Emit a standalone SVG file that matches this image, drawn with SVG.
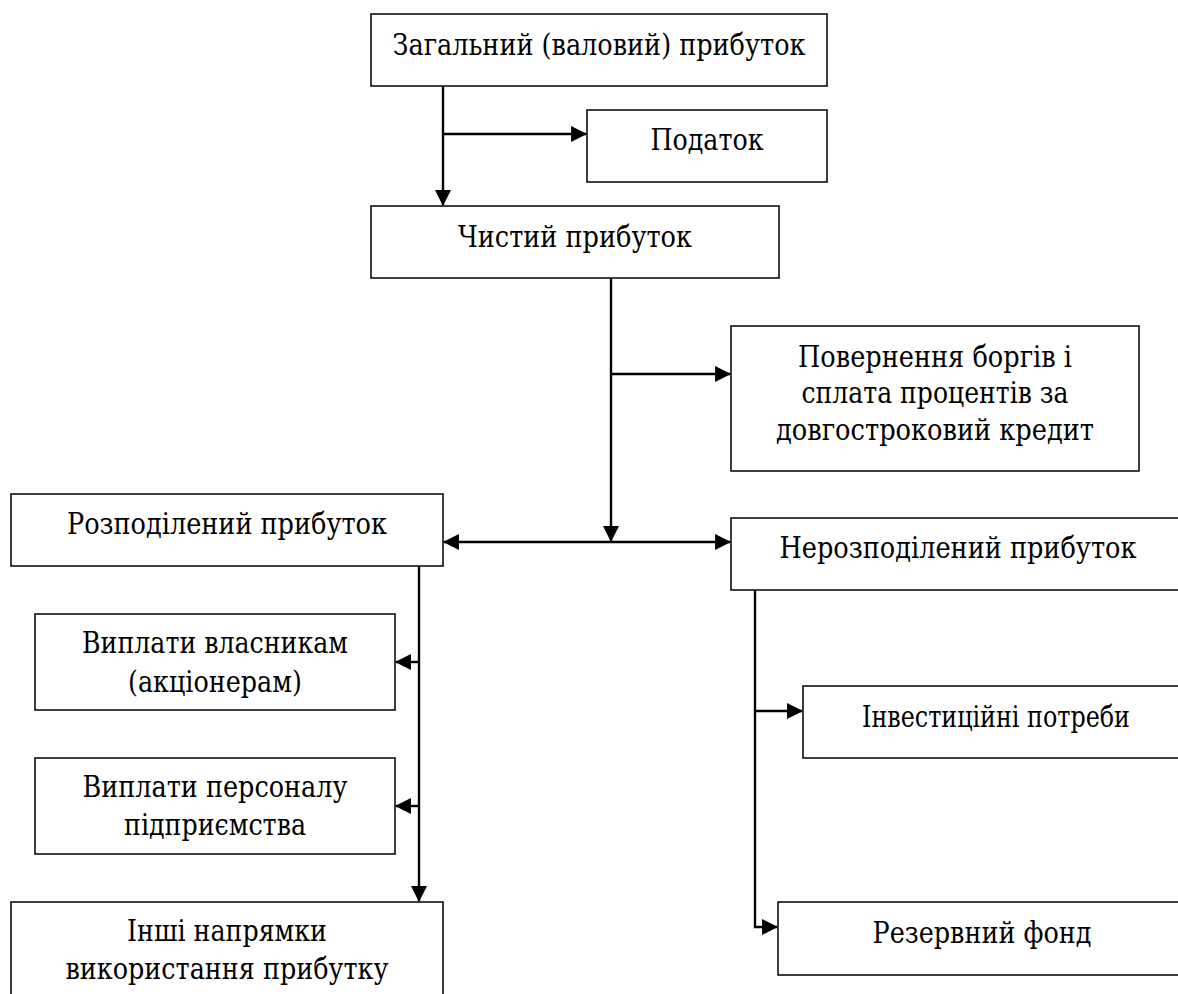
<svg xmlns="http://www.w3.org/2000/svg" width="1178" height="994" viewBox="0 0 1178 994">
<style>
.box{fill:#fff;stroke:#000;stroke-width:1.5}
.lbl{font-family:'DejaVu Serif','Liberation Serif',serif;font-size:30px;fill:#000;text-anchor:middle}
.con{fill:none;stroke:#000;stroke-width:2.4}
</style>
<defs>
<marker id="ah" markerUnits="userSpaceOnUse" markerWidth="16" markerHeight="16" viewBox="0 0 15 15" refX="14" refY="7.5" orient="auto-start-reverse">
<path d="M0,0 L15,7.5 L0,15 z" fill="#000"/>
</marker>
</defs>
<rect width="1178" height="994" fill="#fff"/>
<g id="connectors">
<path class="con" d="M443,86 V205" marker-end="url(#ah)"/>
<path class="con" d="M443,134 H586" marker-end="url(#ah)"/>
<path class="con" d="M611,278 V541" marker-end="url(#ah)"/>
<path class="con" d="M611,374 H730" marker-end="url(#ah)"/>
<path class="con" d="M444,542 H730" marker-start="url(#ah)" marker-end="url(#ah)"/>
<path class="con" d="M419,566 V901" marker-end="url(#ah)"/>
<path class="con" d="M419,662 H396" marker-end="url(#ah)"/>
<path class="con" d="M419,806 H396" marker-end="url(#ah)"/>
<path class="con" d="M755,590 V927 H777" marker-end="url(#ah)"/>
<path class="con" d="M755,711 H802" marker-end="url(#ah)"/>
</g>
<g id="n1"><rect class="box" x="371" y="14" width="456" height="72"/><text class="lbl" x="599" y="55" textLength="413" lengthAdjust="spacingAndGlyphs">Загальний (валовий) прибуток</text></g>
<g id="n2"><rect class="box" x="587" y="110" width="240" height="72"/><text class="lbl" x="707" y="150" textLength="113" lengthAdjust="spacingAndGlyphs">Податок</text></g>
<g id="n3"><rect class="box" x="371" y="206" width="408" height="72"/><text class="lbl" x="575" y="247" textLength="234" lengthAdjust="spacingAndGlyphs">Чистий прибуток</text></g>
<g id="n4"><rect class="box" x="731" y="326" width="408" height="145"/><text class="lbl" x="935" y="367" textLength="274" lengthAdjust="spacingAndGlyphs">Повернення боргів і</text><text class="lbl" x="935" y="403" textLength="267" lengthAdjust="spacingAndGlyphs">сплата процентів за</text><text class="lbl" x="935" y="440" textLength="318" lengthAdjust="spacingAndGlyphs">довгостроковий кредит</text></g>
<g id="n5"><rect class="box" x="11" y="494" width="432" height="72"/><text class="lbl" x="227" y="534" textLength="320" lengthAdjust="spacingAndGlyphs">Розподілений прибуток</text></g>
<g id="n6"><path class="box" d="M1178,518 H731 V590 H1178"/><text class="lbl" x="958" y="558" textLength="357" lengthAdjust="spacingAndGlyphs">Нерозподілений прибуток</text></g>
<g id="n7"><rect class="box" x="35" y="614" width="360" height="96"/><text class="lbl" x="215" y="653" textLength="266" lengthAdjust="spacingAndGlyphs">Виплати власникам</text><text class="lbl" x="215" y="692" textLength="174" lengthAdjust="spacingAndGlyphs">(акціонерам)</text></g>
<g id="n8"><rect class="box" x="35" y="758" width="360" height="96"/><text class="lbl" x="215" y="797" textLength="265" lengthAdjust="spacingAndGlyphs">Виплати персоналу</text><text class="lbl" x="215" y="835" textLength="182" lengthAdjust="spacingAndGlyphs">підприємства</text></g>
<g id="n9"><path class="box" d="M11,994 V902 H443 V994"/><text class="lbl" x="227" y="941" textLength="200" lengthAdjust="spacingAndGlyphs">Інші напрямки</text><text class="lbl" x="227" y="979" textLength="323" lengthAdjust="spacingAndGlyphs">використання прибутку</text></g>
<g id="n10"><path class="box" d="M1178,686 H803 V758 H1178"/><text class="lbl" x="996" y="727" textLength="268" lengthAdjust="spacingAndGlyphs">Інвестиційні потреби</text></g>
<g id="n11"><path class="box" d="M1178,902 H778 V975 H1178"/><text class="lbl" x="982" y="943" textLength="219" lengthAdjust="spacingAndGlyphs">Резервний фонд</text></g>
</svg>
